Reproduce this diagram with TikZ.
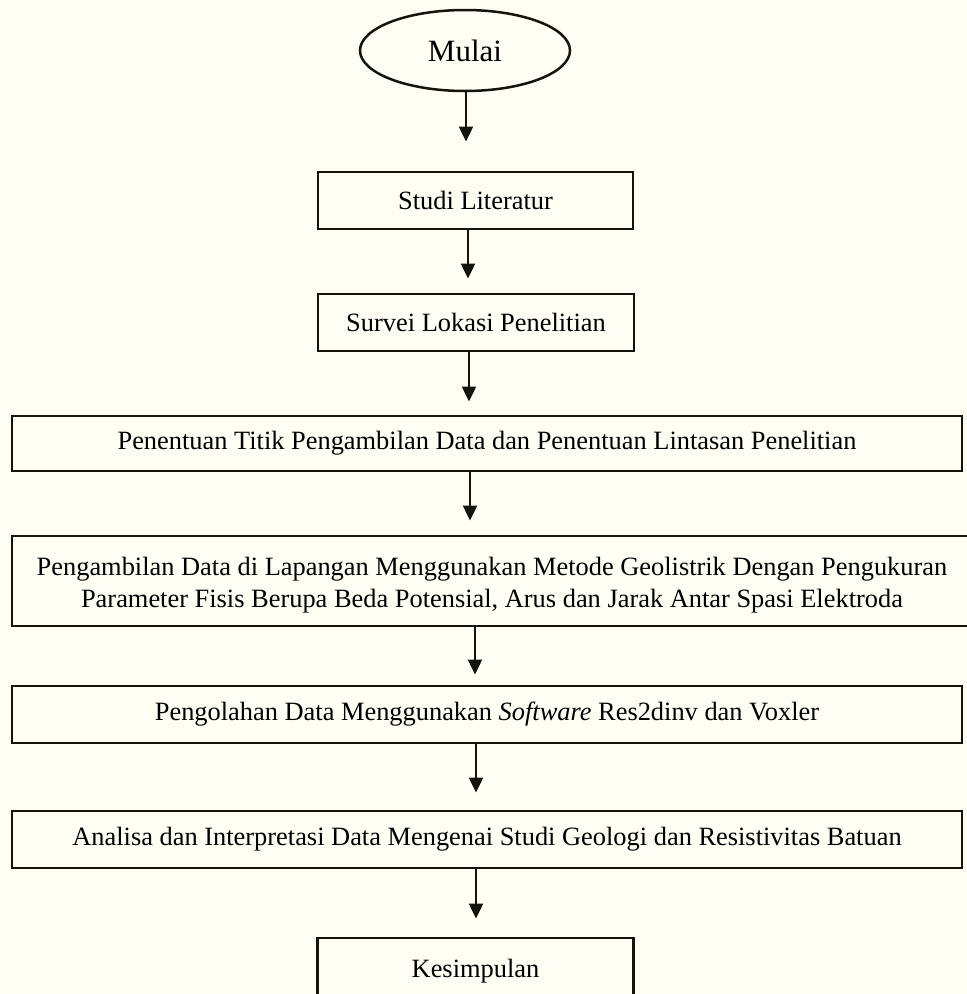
\documentclass[tikz,border=0pt]{standalone}
\usepackage{fontspec}
\setmainfont{Liberation Serif}
\usetikzlibrary{shapes.geometric,arrows.meta}
\definecolor{bgivory}{RGB}{254,254,245}
\definecolor{inkline}{RGB}{20,20,12}
\begin{document}
\begin{tikzpicture}[x=1pt,y=-1pt,
  box/.style={draw=inkline, line width=2.9pt, rectangle, inner sep=0pt, align=center,
    font=\fontsize{26.4}{32}\selectfont},
  arr/.style={draw=inkline, line width=2.2pt, -{Triangle[length=15pt,width=14pt]}}]
\fill[bgivory] (0,0) rectangle (967,994);
\useasboundingbox (0,0) rectangle (967,994);
\node[draw=inkline, ellipse, line width=2.5pt, minimum width=210pt, minimum height=81pt,
  inner sep=0pt, font=\fontsize{31}{36}\selectfont] (mulai) at (465,50.5) {Mulai};
\node[box, minimum width=315pt, minimum height=57pt] (studi) at (475.5,200.5) {Studi Literatur};
\node[box, minimum width=316pt, minimum height=57pt] (survei) at (476,322.5) {Survei Lokasi Penelitian};
\node[box, minimum width=950pt, minimum height=55pt] (tentu) at (487,443.5)
  {Penentuan Titik Pengambilan Data dan Penentuan Lintasan Penelitian};
\node[box, minimum width=960pt, minimum height=90pt] (ambil) at (492,581)
  {\rule{0pt}{26pt}Pengambilan Data di Lapangan Menggunakan Metode Geolistrik Dengan Pengukuran\\
   Parameter Fisis Berupa Beda Potensial, Arus dan Jarak Antar Spasi Elektroda};
\node[box, minimum width=950pt, minimum height=57pt] (olah) at (487,714.5)
  {Pengolahan Data Menggunakan \textit{Software} Res2dinv dan Voxler};
\node[box, minimum width=950pt, minimum height=57pt] (analisa) at (487,839.5)
  {Analisa dan Interpretasi Data Mengenai Studi Geologi dan Resistivitas Batuan};
\node[box, minimum width=316pt, minimum height=66pt] (simpul) at (475.5,971) {Kesimpulan};
\draw[arr, shorten >=29pt] ([xshift=1pt]mulai.south) -- ([xshift=1pt]mulai.south |- studi.north);
\draw[arr, shorten >=14pt] ([xshift=-7.5pt]studi.south) -- ([xshift=-7.5pt]studi.south |- survei.north);
\draw[arr, shorten >=13pt] ([xshift=-7pt]survei.south) -- ([xshift=-7pt]survei.south |- tentu.north);
\draw[arr, shorten >=14pt] ([xshift=-17pt]tentu.south) -- ([xshift=-17pt]tentu.south |- ambil.north);
\draw[arr, shorten >=10pt] ([xshift=-17pt]ambil.south) -- ([xshift=-17pt]ambil.south |- olah.north);
\draw[arr, shorten >=17pt] ([xshift=-11pt]olah.south) -- ([xshift=-11pt]olah.south |- analisa.north);
\draw[arr, shorten >=18pt] ([xshift=-11pt]analisa.south) -- ([xshift=-11pt]analisa.south |- simpul.north);
\end{tikzpicture}
\end{document}
